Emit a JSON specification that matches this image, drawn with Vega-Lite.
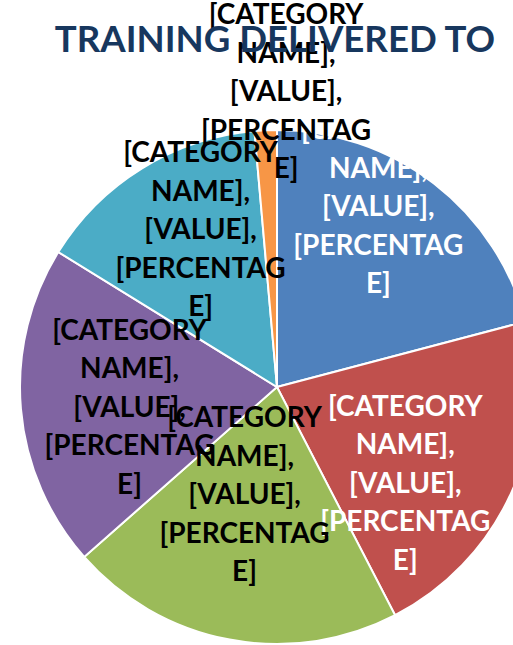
{
  "$schema": "https://vega.github.io/schema/vega-lite/v6.json",
  "width": 472,
  "height": 516,
  "autosize": {"type": "none"},
  "padding": {"left": 41, "top": 129, "right": 0, "bottom": 0},
  "background": "white",
  "config": {"view": {"stroke": null}},
  "title": {
    "text": "TRAINING DELIVERED TO",
    "font": "Lato",
    "fontSize": 36.6,
    "fontWeight": "bold",
    "color": "#17375E",
    "anchor": "middle",
    "offset": 0,
    "dy": 57,
    "dx": -2
  },
  "data": {
    "values": [
      {"cat": "Category 1", "value": 20.9},
      {"cat": "Category 2", "value": 21.5},
      {"cat": "Category 3", "value": 21.1},
      {"cat": "Category 4", "value": 20.3},
      {"cat": "Category 5", "value": 14.8},
      {"cat": "Category 6", "value": 1.4}
    ]
  },
  "encoding": {
    "theta": {"field": "value", "type": "quantitative", "stack": true}
  },
  "layer": [
    {
      "mark": {"type": "arc", "radius": 257, "stroke": "white", "strokeWidth": 2},
      "encoding": {
        "color": {
          "field": "cat",
          "type": "nominal",
          "scale": {
            "domain": ["Category 1", "Category 2", "Category 3", "Category 4", "Category 5", "Category 6"],
            "range": ["#4F81BD", "#C0504D", "#9BBB59", "#8064A2", "#4BACC6", "#F79646"]
          },
          "legend": null
        }
      }
    },
    {
      "mark": {"type": "text", "radius": 207, "dx": -25, "dy": -92, "text": ["[CATEGORY", "NAME],", "[VALUE],", "[PERCENTAG", "E]"], "font": "Lato", "fontSize": 28, "fontWeight": "bold", "lineHeight": 38.5, "align": "center", "baseline": "middle"},
      "encoding": {
        "detail": {"field": "cat", "type": "nominal"},
        "color": {"value": "white"},
        "opacity": {"condition": {"test": "datum.cat === 'Category 1'", "value": 1}, "value": 0}
      }
    },
    {
      "mark": {"type": "text", "radius": 160, "dx": -18, "dy": -44, "text": ["[CATEGORY", "NAME],", "[VALUE],", "[PERCENTAG", "E]"], "font": "Lato", "fontSize": 28, "fontWeight": "bold", "lineHeight": 38.5, "align": "center", "baseline": "middle"},
      "encoding": {
        "detail": {"field": "cat", "type": "nominal"},
        "color": {"value": "white"},
        "opacity": {"condition": {"test": "datum.cat === 'Category 2'", "value": 1}, "value": 0}
      }
    },
    {
      "mark": {"type": "text", "radius": 111, "dx": -12, "dy": -77, "text": ["[CATEGORY", "NAME],", "[VALUE],", "[PERCENTAG", "E]"], "font": "Lato", "fontSize": 28, "fontWeight": "bold", "lineHeight": 38.5, "align": "center", "baseline": "middle"},
      "encoding": {
        "detail": {"field": "cat", "type": "nominal"},
        "color": {"value": "black"},
        "opacity": {"condition": {"test": "datum.cat === 'Category 3'", "value": 1}, "value": 0}
      }
    },
    {
      "mark": {"type": "text", "radius": 152, "dx": 4, "dy": -68, "text": ["[CATEGORY", "NAME],", "[VALUE],", "[PERCENTAG", "E]"], "font": "Lato", "fontSize": 28, "fontWeight": "bold", "lineHeight": 38.5, "align": "center", "baseline": "middle"},
      "encoding": {
        "detail": {"field": "cat", "type": "nominal"},
        "color": {"value": "black"},
        "opacity": {"condition": {"test": "datum.cat === 'Category 4'", "value": 1}, "value": 0}
      }
    },
    {
      "mark": {"type": "text", "radius": 176, "dx": 16, "dy": -83, "text": ["[CATEGORY", "NAME],", "[VALUE],", "[PERCENTAG", "E]"], "font": "Lato", "fontSize": 28, "fontWeight": "bold", "lineHeight": 38.5, "align": "center", "baseline": "middle"},
      "encoding": {
        "detail": {"field": "cat", "type": "nominal"},
        "color": {"value": "black"},
        "opacity": {"condition": {"test": "datum.cat === 'Category 5'", "value": 1}, "value": 0}
      }
    },
    {
      "mark": {"type": "text", "radius": 294, "dx": 22, "dy": -77, "text": ["[CATEGORY", "NAME],", "[VALUE],", "[PERCENTAG", "E]"], "font": "Lato", "fontSize": 28, "fontWeight": "bold", "lineHeight": 38.5, "align": "center", "baseline": "middle"},
      "encoding": {
        "detail": {"field": "cat", "type": "nominal"},
        "color": {"value": "black"},
        "opacity": {"condition": {"test": "datum.cat === 'Category 6'", "value": 1}, "value": 0}
      }
    }
  ]
}
